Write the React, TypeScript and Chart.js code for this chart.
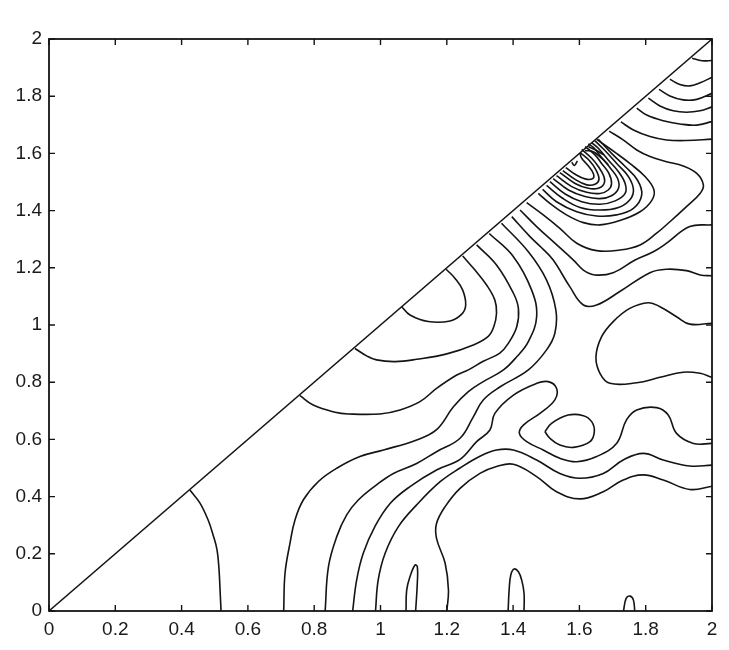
import React, { useEffect, useRef } from "react";
import { Chart, registerables } from "chart.js";

Chart.register(...registerables);

type Pt = [number, number];

const xTickValues = [0, 0.2, 0.4, 0.6, 0.8, 1, 1.2, 1.4, 1.6, 1.8, 2];
const yTickValues = [0, 0.2, 0.4, 0.6, 0.8, 1, 1.2, 1.4, 1.6, 1.8, 2];

const diagonal: Pt[] = [[0, 0], [2, 2]];

const leftArc: Pt[] = [[0.425, 0.423], [0.455, 0.378], [0.48, 0.318], [0.495, 0.266], [0.507, 0.213], [0.513, 0.143], [0.516, 0.073], [0.519, 0]];

const humpInner: Pt[] = [[1.064, 1.064], [1.089, 1.035], [1.144, 1.012], [1.21, 1.014], [1.245, 1.038], [1.257, 1.07], [1.248, 1.122], [1.225, 1.163], [1.198, 1.195]];
const curveK: Pt[] = [[0.923, 0.918], [0.958, 0.892], [0.988, 0.878], [1.044, 0.872], [1.109, 0.88], [1.2, 0.899], [1.28, 0.93], [1.325, 0.96], [1.342, 0.995], [1.35, 1.041], [1.345, 1.087], [1.32, 1.14], [1.285, 1.192], [1.248, 1.241]];
const curveL: Pt[] = [[0.757, 0.753], [0.797, 0.72], [0.863, 0.695], [0.903, 0.689], [0.9985, 0.689], [1.059, 0.703], [1.119, 0.732], [1.17, 0.779], [1.23, 0.825], [1.265, 0.843], [1.31, 0.873], [1.36, 0.902], [1.385, 0.935], [1.411, 0.994], [1.416, 1.058], [1.401, 1.111], [1.35, 1.21], [1.29, 1.28]];
const curveM: Pt[] = [[0.708, 0], [0.712, 0.132], [0.727, 0.237], [0.742, 0.318], [0.767, 0.388], [0.812, 0.452], [0.868, 0.499], [0.938, 0.54], [1.009, 0.563], [1.109, 0.598], [1.17, 0.635], [1.22, 0.714], [1.265, 0.767], [1.31, 0.802], [1.371, 0.843], [1.411, 0.889], [1.446, 0.942], [1.471, 1.029], [1.456, 1.122], [1.401, 1.239], [1.328, 1.32]];
const curveN: Pt[] = [[0.833, 0], [0.843, 0.155], [0.868, 0.26], [0.898, 0.336], [0.933, 0.388], [0.988, 0.441], [1.039, 0.481], [1.109, 0.516], [1.169, 0.557], [1.24, 0.604], [1.28, 0.679], [1.31, 0.738], [1.361, 0.784], [1.446, 0.843], [1.501, 0.913], [1.526, 0.971], [1.529, 1.052], [1.501, 1.157], [1.446, 1.256], [1.365, 1.356]];
const curvePocket: Pt[] = [[0.916, 0], [0.928, 0.108], [0.948, 0.202], [0.983, 0.295], [1.029, 0.376], [1.089, 0.435], [1.169, 0.493], [1.24, 0.53], [1.29, 0.592], [1.33, 0.633], [1.345, 0.691], [1.401, 0.755], [1.471, 0.796], [1.506, 0.802], [1.531, 0.779], [1.526, 0.738], [1.481, 0.691], [1.431, 0.65], [1.419, 0.621], [1.441, 0.592], [1.491, 0.563], [1.541, 0.534], [1.592, 0.522], [1.652, 0.54], [1.712, 0.586], [1.742, 0.668], [1.773, 0.703], [1.833, 0.711], [1.868, 0.685], [1.893, 0.621], [1.944, 0.586], [2, 0.586]];
const curveWaveUpper: Pt[] = [[0.985, 0], [0.993, 0.108], [1.014, 0.202], [1.054, 0.295], [1.109, 0.371], [1.18, 0.452], [1.24, 0.5], [1.3, 0.541], [1.35, 0.563], [1.401, 0.563], [1.471, 0.528], [1.541, 0.481], [1.602, 0.464], [1.672, 0.481], [1.732, 0.528], [1.793, 0.551], [1.853, 0.528], [1.933, 0.507], [2, 0.51]];
const curveWaveLower: Pt[] = [[1.2, 0], [1.205, 0.073], [1.195, 0.167], [1.169, 0.254], [1.169, 0.306], [1.195, 0.365], [1.24, 0.429], [1.3, 0.481], [1.35, 0.505], [1.401, 0.513], [1.471, 0.47], [1.531, 0.417], [1.602, 0.392], [1.672, 0.417], [1.732, 0.458], [1.793, 0.476], [1.853, 0.458], [1.933, 0.425], [2, 0.436]];
const spike110: Pt[] = [[1.077, 0], [1.079, 0.073], [1.089, 0.12], [1.104, 0.161], [1.111, 0.155], [1.111, 0.097], [1.106, 0]];
const spike140: Pt[] = [[1.385, 0], [1.388, 0.073], [1.393, 0.126], [1.403, 0.147], [1.416, 0.137], [1.426, 0.108], [1.433, 0.062], [1.433, 0]];
const spike175: Pt[] = [[1.733, 0], [1.741, 0.044], [1.753, 0.052], [1.763, 0.038], [1.767, 0]];

const curveP: Pt[] = [[1.421, 1.402], [1.471, 1.344], [1.526, 1.286], [1.582, 1.227], [1.612, 1.192], [1.647, 1.175], [1.702, 1.183], [1.768, 1.227], [1.823, 1.256], [1.863, 1.286], [1.933, 1.344], [2, 1.35]];
const curveQ: Pt[] = [[1.396, 1.379], [1.451, 1.309], [1.486, 1.27], [1.521, 1.227], [1.571, 1.134], [1.612, 1.07], [1.652, 1.07], [1.722, 1.117], [1.813, 1.183], [1.863, 1.195], [1.923, 1.19], [1.964, 1.175], [2, 1.172]];
const blobRight: Pt[] = [[2, 1.006], [1.933, 1.003], [1.893, 1.029], [1.843, 1.064], [1.808, 1.078], [1.752, 1.058], [1.702, 1.012], [1.667, 0.959], [1.65, 0.889], [1.662, 0.831], [1.692, 0.796], [1.773, 0.798], [1.843, 0.817], [1.913, 0.835], [1.964, 0.831], [2, 0.817]];
const blobSmall: Pt[] = [[1.496, 0.627], [1.516, 0.656], [1.566, 0.685], [1.612, 0.683], [1.637, 0.662], [1.645, 0.627], [1.632, 0.592], [1.582, 0.572], [1.541, 0.58], [1.511, 0.604], [1.496, 0.627]];

const cornerA: Pt[] = [[1.94, 1.933], [1.97, 1.924], [2, 1.925]];
const cornerB: Pt[] = [[1.873, 1.859], [1.903, 1.841], [1.933, 1.836], [1.964, 1.847], [2, 1.866]];
const cornerC: Pt[] = [[1.84, 1.824], [1.873, 1.801], [1.913, 1.787], [1.954, 1.789], [2, 1.81]];
const cornerD: Pt[] = [[1.808, 1.793], [1.843, 1.766], [1.883, 1.749], [1.923, 1.744], [1.964, 1.749], [2, 1.763]];
const cornerE: Pt[] = [[1.773, 1.758], [1.803, 1.734], [1.853, 1.714], [1.903, 1.703], [1.954, 1.699], [2, 1.711]];
const cornerF: Pt[] = [[1.725, 1.71], [1.763, 1.682], [1.813, 1.659], [1.863, 1.647], [1.923, 1.645], [2, 1.65]];

const peakG: Pt[] = [[1.69, 1.678], [1.732, 1.647], [1.773, 1.612], [1.813, 1.589], [1.863, 1.571], [1.913, 1.556], [1.954, 1.53], [1.974, 1.49], [1.964, 1.46], [1.923, 1.414], [1.873, 1.361], [1.833, 1.321], [1.783, 1.28], [1.722, 1.262], [1.652, 1.26], [1.592, 1.286], [1.541, 1.338], [1.491, 1.385], [1.441, 1.428]];
const peakH: Pt[] = [[1.476, 1.46], [1.511, 1.425], [1.561, 1.385], [1.612, 1.358], [1.662, 1.35], [1.722, 1.365], [1.783, 1.396], [1.818, 1.435], [1.825, 1.472], [1.798, 1.519], [1.752, 1.565], [1.712, 1.6], [1.652, 1.649]];
const peak2: Pt[] = [[1.489, 1.474], [1.531, 1.431], [1.592, 1.396], [1.652, 1.381], [1.712, 1.385], [1.763, 1.408], [1.788, 1.455], [1.775, 1.507], [1.738, 1.554], [1.697, 1.6], [1.657, 1.649]];
const peak3: Pt[] = [[1.501, 1.488], [1.547, 1.445], [1.602, 1.411], [1.662, 1.402], [1.718, 1.411], [1.753, 1.439], [1.763, 1.474], [1.748, 1.519], [1.714, 1.563], [1.677, 1.61], [1.647, 1.644]];
const peak4: Pt[] = [[1.511, 1.501], [1.557, 1.458], [1.607, 1.431], [1.662, 1.422], [1.708, 1.434], [1.738, 1.46], [1.738, 1.495], [1.718, 1.536], [1.687, 1.577], [1.657, 1.618], [1.637, 1.638]];
const peak5: Pt[] = [[1.521, 1.512], [1.567, 1.472], [1.617, 1.449], [1.662, 1.442], [1.697, 1.452], [1.718, 1.478], [1.715, 1.513], [1.692, 1.551], [1.667, 1.586], [1.642, 1.621], [1.627, 1.633]];
const peak6: Pt[] = [[1.531, 1.522], [1.577, 1.484], [1.622, 1.464], [1.662, 1.46], [1.687, 1.472], [1.697, 1.495], [1.689, 1.53], [1.667, 1.565], [1.647, 1.595], [1.617, 1.624]];
const peak7: Pt[] = [[1.541, 1.533], [1.587, 1.495], [1.627, 1.478], [1.657, 1.478], [1.674, 1.493], [1.674, 1.519], [1.657, 1.554], [1.637, 1.583], [1.607, 1.614]];
const peak8: Pt[] = [[1.55, 1.54], [1.587, 1.509], [1.622, 1.49], [1.647, 1.492], [1.659, 1.509], [1.65, 1.542], [1.63, 1.575], [1.602, 1.603]];
const peak9: Pt[] = [[1.559, 1.55], [1.587, 1.527], [1.617, 1.511], [1.64, 1.512], [1.642, 1.53], [1.624, 1.56], [1.607, 1.583], [1.602, 1.598]];
const peakV: Pt[] = [[1.577, 1.569], [1.585, 1.558], [1.594, 1.574]];
const ridge1: Pt[] = [[1.617, 1.61], [1.642, 1.606], [1.667, 1.583], [1.687, 1.56]];
const ridge2: Pt[] = [[1.627, 1.624], [1.652, 1.61], [1.674, 1.595]];

const smoothContours: Pt[][] = [
  leftArc, humpInner, curveK, curveL, curveM, curveN, curvePocket, curveWaveUpper, curveWaveLower,
  spike110, spike140, spike175, curveP, curveQ, blobRight, blobSmall,
  cornerA, cornerB, cornerC, cornerD, cornerE, cornerF,
  peakG, peakH, peak2, peak3, peak4, peak5, peak6, peak7, peak8, peak9, peakV, ridge1, ridge2,
];

const INK = "#141414";

const frameAndTicks = {
  id: "frameAndTicks",
  afterDatasetsDraw(chart: any) {
    const { ctx, chartArea: a, scales } = chart;
    const len = 6;
    ctx.save();
    ctx.strokeStyle = INK;
    ctx.lineWidth = 1.4;
    ctx.beginPath();
    scales.x.ticks.forEach((t: any) => {
      const p = scales.x.getPixelForValue(t.value);
      ctx.moveTo(p, a.bottom);
      ctx.lineTo(p, a.bottom - len);
      ctx.moveTo(p, a.top);
      ctx.lineTo(p, a.top + len);
    });
    scales.y.ticks.forEach((t: any) => {
      const p = scales.y.getPixelForValue(t.value);
      ctx.moveTo(a.left, p);
      ctx.lineTo(a.left + len, p);
      ctx.moveTo(a.right, p);
      ctx.lineTo(a.right - len, p);
    });
    ctx.stroke();
    ctx.lineWidth = 1.8;
    ctx.strokeRect(a.left, a.top, a.right - a.left, a.bottom - a.top);
    ctx.restore();
  },
};

export default function App() {
  const ref = useRef<HTMLCanvasElement>(null);
  useEffect(() => {
    if (!ref.current) return;
    const toData = (c: Pt[]) => c.map(([x, y]) => ({ x, y }));
    const chart = new Chart(ref.current, {
      type: "scatter",
      data: {
        datasets: [
          { data: toData(diagonal), showLine: true, borderColor: INK, borderWidth: 1.4, pointRadius: 0, tension: 0 },
          ...smoothContours.map((c) => ({
            data: toData(c),
            showLine: true,
            borderColor: INK,
            borderWidth: 1.6,
            pointRadius: 0,
            tension: 0.4,
          })),
        ],
      },
      options: {
        animation: false,
        responsive: false,
        layout: { padding: { top: 39, right: 17, left: 0, bottom: 0 } },
        plugins: { legend: { display: false }, tooltip: { enabled: false } },
        scales: {
          x: {
            type: "linear",
            min: 0,
            max: 2,
            grid: { display: false, drawTicks: false },
            border: { display: false },
            afterFit: (s: any) => { s.height = 39; },
            afterBuildTicks: (s: any) => { s.ticks = xTickValues.map((value) => ({ value })); },
            ticks: {
              autoSkip: false,
              maxRotation: 0,
              padding: 7,
              color: "#1a1a1a",
              font: { family: "Liberation Sans", size: 19 },
              callback: (v: any) => String(v),
            },
          },
          y: {
            type: "linear",
            min: 0,
            max: 2,
            grid: { display: false, drawTicks: false },
            border: { display: false },
            afterFit: (s: any) => { s.width = 49; },
            afterBuildTicks: (s: any) => { s.ticks = yTickValues.map((value) => ({ value })); },
            ticks: {
              autoSkip: false,
              padding: 7,
              color: "#1a1a1a",
              font: { family: "Liberation Sans", size: 19 },
              callback: (v: any) => String(v),
            },
          },
        },
      },
      plugins: [frameAndTicks],
    } as any);
    return () => chart.destroy();
  }, []);
  return (
    <div style={{ position: "absolute", left: 0, top: 0, width: 729, height: 650, background: "#fff" }}>
      <canvas ref={ref} width={729} height={650} style={{ display: "block" }} />
    </div>
  );
}
